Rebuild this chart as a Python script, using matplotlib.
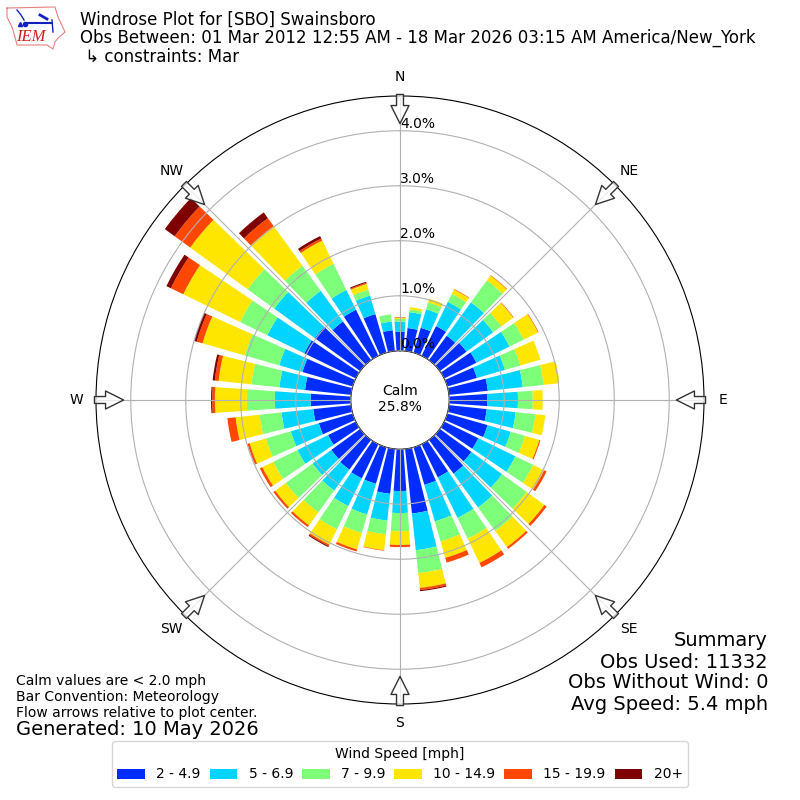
#importing libraries
import numpy as np
import matplotlib
matplotlib.use("Agg")
import matplotlib.pyplot as plt

#wind direction of every bar, degrees clockwise from north
directions = np.arange(10, 370, 10)

#percent of observations per speed bin, one value per direction
speed_2_5 = [.42, .47, .60, .55, .60, .65, .56, .71, .69, .69, .76, .69, .71, .76, .67, .71, 1.18, .76,
             .82, .69, .69, .67, .65, .56, .64, .69, .73, .84, .95, 1.04, 1.02, .87, .93, .73, .38, .35]
speed_5_7 = [.29, .35, .49, .75, .60, .67, .53, .64, .56, .53, .44, .75, .69, .76, .82, .69, .67, .40,
             .49, .58, .56, .47, .42, .62, .53, .58, .65, .47, .44, .75, .91, .69, .40, .35, .16, .18]
speed_7_10 = [.05, .13, .16, .49, .18, .29, .29, .38, .27, .36, .27, .36, .55, .53, .42, .38, .42, .33,
              .25, .35, .47, .49, .60, .49, .47, .40, .51, .51, .65, .55, .60, .56, .53, .11, .13, .05]
speed_10_15 = [.04, .07, .09, .11, .27, .29, .38, .29, .18, .18, .27, .22, .40, .36, .49, .31, .27, .25,
               .29, .31, .31, .29, .24, .22, .31, .44, .58, .60, .80, 1.15, 1.29, .89, .47, .11, 0, .02]
speed_15_20 = [0, 0, .01, .01, .01, .01, 0, 0, 0, 0, .02, .05, .05, .04, .09, .09, .04, .04,
               .01, .04, .03, .04, .04, .05, .04, .15, .05, .07, .11, .25, .35, .18, .04, .02, 0, .01]
speed_20 = [0, 0, 0, 0, 0, 0, 0, 0, 0, 0, 0, 0, 0, 0, 0, 0, .02, 0,
            0, 0, .02, 0, 0, 0, 0, 0, .02, .04, .05, .09, .22, .13, .05, .02, 0, 0]

all_speeds = [speed_2_5, speed_5_7, speed_7_10, speed_10_15, speed_15_20, speed_20]
speed_labels = ["2 - 4.9", "5 - 6.9", "7 - 9.9", "10 - 14.9", "15 - 19.9", "20+"]
speed_colors = ["#002dff", "#00d4ff", "#7dff7a", "#ffe600", "#ff4700", "#7f0000"]

compass_angles = [0, 45, 90, 135, 180, 225, 270, 315]
compass_labels = ["N", "NE", "E", "SE", "S", "SW", "W", "NW"]
radial_ticks = [0, 1, 2, 3, 4]
radial_labels = ["0.0%", "1.0%", "2.0%", "3.0%", "4.0%"]
summary_lines = ["Summary", "Obs Used: 11332", "Obs Without Wind: 0", "Avg Speed: 5.4 mph"]

fig = plt.figure(figsize=(8, 8), dpi=100)
ax = fig.add_axes([96 / 800, 96 / 800, 608 / 800, 608 / 800], projection="polar")
ax.set_theta_zero_location("N")
ax.set_theta_direction(-1)

#stacking the speed bins on top of each other
bottom = np.zeros(len(directions))
for values, label, color in zip(all_speeds, speed_labels, speed_colors):
    ax.bar(np.radians(directions), values, width=np.radians(8), bottom=bottom, color=color, label=label)
    bottom = bottom + np.array(values)

#hole in the middle is the calm circle
ax.set_rorigin(-0.895)
ax.set_ylim(0, 4.632)
ax.set_axisbelow(False)
ax.grid(True, color="#b0b0b0", linewidth=0.8)
ax.set_thetagrids(compass_angles, compass_labels, fontsize=10)
ax.set_yticks(radial_ticks)
ax.set_yticklabels(radial_labels, fontsize=10)
ax.set_rlabel_position(0)

#flow arrows pointing to the center
for angle in compass_angles:
    ax.annotate("", xy=(np.radians(angle), 4.13), xytext=(np.radians(angle), 4.66),
                arrowprops=dict(facecolor=(1, 1, 1, 0.75), edgecolor="#333333", linewidth=1,
                                width=5, headwidth=13, headlength=13, shrink=0),
                annotation_clip=False, zorder=4)

fig.text(0.5, 1 - 399 / 800, "Calm\n25.8%", ha="center", va="center", fontsize=10, zorder=6)

#title block
fig.text(80 / 800, 1 - 11 / 800, "Windrose Plot for [SBO] Swainsboro\n"
         "Obs Between: 01 Mar 2012 12:55 AM - 18 Mar 2026 03:15 AM America/New_York\n"
         " \u21b3 constraints: Mar", ha="left", va="top", fontsize=12, linespacing=1.0)

#summary and notes
for line, y_pos in zip(summary_lines, [640, 662, 683, 705]):
    fig.text(768 / 800, 1 - y_pos / 800, line, ha="right", va="center", fontsize=14)
fig.text(16 / 800, 1 - 674 / 800, "Calm values are < 2.0 mph\nBar Convention: Meteorology\n"
         "Flow arrows relative to plot center.", ha="left", va="top", fontsize=10)
fig.text(16 / 800, 1 - 720 / 800, "Generated: 10 May 2026", ha="left", va="top", fontsize=14)

fig.legend(loc="lower center", bbox_to_anchor=(0.5, 0.0075), ncol=6, title="Wind Speed [mph]", fontsize=10,
           columnspacing=0.65)

#little IEM logo, drawn in pixel coordinates
logo = fig.add_axes([0, 1 - 55 / 800, 70 / 800, 55 / 800])
logo.set_xlim(0, 70)
logo.set_ylim(55, 0)
logo.axis("off")
logo_x = [7, 55, 58, 65, 58, 55, 53, 47, 17, 15, 12, 7, 7]
logo_y = [8, 7, 17, 32, 38, 42, 49, 45, 45, 37, 27, 17, 8]
logo.plot(logo_x, logo_y, color="#e88080", linewidth=0.8)
logo.plot([25, 52], [23, 23], color="#1020c0", linewidth=1.5)
logo.plot([17, 21, 24], [10, 15, 20], color="#1020c0", linewidth=1)
logo.plot([40, 47], [15, 19], color="#1020c0", linewidth=2)
logo.plot([52, 53], [20, 32], color="#1020c0", linewidth=1)
logo.plot([20], [24], marker="^", color="#1020c0", markersize=3)
logo.plot([25], [24], marker="o", color="#1020c0", markersize=3)
logo.text(16, 45, "IEM", color="#d02020", fontsize=12, family="Liberation Serif", style="italic",
          ha="left", va="bottom")

#saving the figure into a file
plt.savefig("out.png", dpi=100)
